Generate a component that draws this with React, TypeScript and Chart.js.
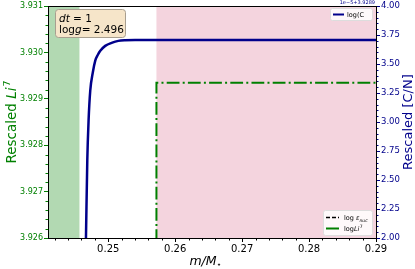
import React, { useEffect, useRef } from "react";
import { Chart, registerables } from "chart.js";

Chart.register(...registerables);

// ---- data ----
const cnMass = [0.24662, 0.24667, 0.24687, 0.24706, 0.24731, 0.2477, 0.24806, 0.24845, 0.24881, 0.24955, 0.2506, 0.2515, 0.2525, 0.254, 0.29];
const cnValue = [1.85, 2.0, 2.67, 3.01, 3.27, 3.43, 3.53, 3.58, 3.614, 3.657, 3.685, 3.7, 3.706, 3.708, 3.708];

const liMass = [0.2572, 0.2572, 0.29];
const liValue = [3.925, 3.92935, 3.92935];

const xTicks = [0.25, 0.26, 0.27, 0.28, 0.29];
const liTicks = [3.926, 3.927, 3.928, 3.929, 3.93, 3.931];
const cnTicks = [2.0, 2.25, 2.5, 2.75, 3.0, 3.25, 3.5, 3.75, 4.0];

const greenSpan = [0.24, 0.2457];
const pinkSpan = [0.2572, 0.29];

const FONT = "'DejaVu Sans', sans-serif";
const GREEN = "#008000";
const NAVY = "#00008b";

const overlay = {
  id: "overlay",
  beforeDatasetsDraw(chart: any) {
    const { ctx, chartArea: a, scales } = chart;
    const x = scales.x;
    ctx.save();
    ctx.beginPath();
    ctx.rect(a.left, a.top, a.right - a.left, a.bottom - a.top);
    ctx.clip();
    const fill = (r: number[], c: string) => {
      const x0 = x.getPixelForValue(r[0]);
      const x1 = x.getPixelForValue(r[1]);
      ctx.fillStyle = c;
      ctx.fillRect(x0, a.top, x1 - x0, a.bottom - a.top);
    };
    fill(greenSpan, "rgba(0,128,0,0.3)");
    fill(pinkSpan, "rgba(219,112,147,0.3)");
    ctx.restore();
  },
  afterDatasetsDraw(chart: any) {
    const { ctx, chartArea: a, scales } = chart;
    const x = scales.x, yl = scales.yLi, yr = scales.yCN;
    ctx.save();
    // minor ticks
    ctx.lineWidth = 1;
    ctx.strokeStyle = "#000";
    for (let i = 121; i <= 145; i++) {
      if (i % 5 === 0) continue;
      const px = Math.round(x.getPixelForValue(i * 0.002)) + 0.5;
      ctx.beginPath(); ctx.moveTo(px, a.bottom); ctx.lineTo(px, a.bottom + 2.5); ctx.stroke();
    }
    ctx.strokeStyle = GREEN;
    for (let i = 0; i <= 25; i++) {
      if (i % 5 === 0) continue;
      const py = Math.round(yl.getPixelForValue(3.926 + i * 0.0002)) + 0.5;
      ctx.beginPath(); ctx.moveTo(a.left, py); ctx.lineTo(a.left - 2.5, py); ctx.stroke();
    }
    ctx.strokeStyle = NAVY;
    for (let i = 0; i <= 40; i++) {
      if (i % 5 === 0) continue;
      const py = Math.round(yr.getPixelForValue(2 + i * 0.05)) + 0.5;
      ctx.beginPath(); ctx.moveTo(a.right, py); ctx.lineTo(a.right + 2.5, py); ctx.stroke();
    }
    // frame
    ctx.strokeStyle = "#000";
    ctx.lineWidth = 1;
    ctx.strokeRect(Math.round(a.left) + 0.5, Math.round(a.top) + 0.5, Math.round(a.right - a.left), Math.round(a.bottom - a.top));

    // text box
    const rr = (x0: number, y0: number, w: number, h: number, r: number) => {
      ctx.beginPath();
      ctx.moveTo(x0 + r, y0);
      ctx.arcTo(x0 + w, y0, x0 + w, y0 + h, r);
      ctx.arcTo(x0 + w, y0 + h, x0, y0 + h, r);
      ctx.arcTo(x0, y0 + h, x0, y0, r);
      ctx.arcTo(x0, y0, x0 + w, y0, r);
      ctx.closePath();
    };
    rr(55.5, 9.5, 70, 28, 3);
    ctx.fillStyle = "#f6e5c9";
    ctx.fill();
    ctx.strokeStyle = "#a89f90";
    ctx.stroke();
    ctx.fillStyle = "#000";
    ctx.textBaseline = "alphabetic";
    ctx.textAlign = "left";
    let cx = 59;
    ctx.font = `italic 10.5px ${FONT}`;
    ctx.fillText("dt", cx, 22);
    cx += ctx.measureText("dt").width;
    ctx.font = `10.5px ${FONT}`;
    ctx.fillText(" = 1", cx, 22);
    cx = 59;
    ctx.fillText("log", cx, 33);
    cx += ctx.measureText("log").width;
    ctx.font = `italic 10.5px ${FONT}`;
    ctx.fillText("g", cx, 33);
    cx += ctx.measureText("g").width;
    ctx.font = `10.5px ${FONT}`;
    ctx.fillText("= 2.496", cx, 33);

    // upper-right legend
    rr(330.5, 8.5, 42, 12, 2);
    ctx.fillStyle = "rgba(255,255,255,0.85)";
    ctx.fill();
    ctx.strokeStyle = "#ddd";
    ctx.stroke();
    ctx.strokeStyle = NAVY;
    ctx.lineWidth = 2;
    ctx.beginPath(); ctx.moveTo(333, 14.5); ctx.lineTo(344, 14.5); ctx.stroke();
    ctx.fillStyle = "#000";
    ctx.font = `6.5px ${FONT}`;
    ctx.fillText("log(C", 347, 17);

    // lower-right legend
    ctx.lineWidth = 1;
    rr(323.5, 210.5, 49, 25, 2);
    ctx.fillStyle = "rgba(255,255,255,0.85)";
    ctx.fill();
    ctx.strokeStyle = "#ddd";
    ctx.stroke();
    ctx.strokeStyle = "#000";
    ctx.lineWidth = 1.3;
    ctx.setLineDash([4, 2]);
    ctx.beginPath(); ctx.moveTo(326, 217.5); ctx.lineTo(339, 217.5); ctx.stroke();
    ctx.setLineDash([]);
    ctx.strokeStyle = GREEN;
    ctx.lineWidth = 2;
    ctx.beginPath(); ctx.moveTo(326, 228.5); ctx.lineTo(339, 228.5); ctx.stroke();
    ctx.fillStyle = "#000";
    ctx.font = `6.5px ${FONT}`;
    cx = 344;
    ctx.fillText("log ", cx, 220);
    cx += ctx.measureText("log ").width;
    ctx.font = `italic 6.5px ${FONT}`;
    ctx.fillText("ε", cx, 220);
    cx += ctx.measureText("ε").width;
    ctx.font = `italic 4.5px ${FONT}`;
    ctx.fillText("nuc", cx, 221.5);
    ctx.font = `6.5px ${FONT}`;
    cx = 344;
    ctx.fillText("log", cx, 231);
    cx += ctx.measureText("log").width;
    ctx.font = `italic 6.5px ${FONT}`;
    ctx.fillText("Li", cx, 231);
    cx += ctx.measureText("Li").width;
    ctx.font = `4.5px ${FONT}`;
    ctx.fillText("7", cx + 0.5, 227.5);

    // offset text
    ctx.fillStyle = NAVY;
    ctx.font = `5px ${FONT}`;
    ctx.textAlign = "right";
    ctx.fillText("1e\u22125+3.9289", 375, 3.5);
    ctx.textAlign = "left";

    // axis titles
    const midY = (a.top + a.bottom) / 2;
    // left
    ctx.save();
    ctx.translate(16, midY);
    ctx.rotate(-Math.PI / 2);
    ctx.fillStyle = GREEN;
    ctx.font = `13.5px ${FONT}`;
    const w1 = ctx.measureText("Rescaled ").width;
    ctx.font = `italic 13.5px ${FONT}`;
    const w2 = ctx.measureText("Li").width;
    ctx.font = `9.5px ${FONT}`;
    const w3 = ctx.measureText("7").width;
    let sx = -(w1 + w2 + w3 + 1) / 2;
    ctx.font = `13.5px ${FONT}`;
    ctx.fillText("Rescaled ", sx, 0);
    ctx.font = `italic 13.5px ${FONT}`;
    ctx.fillText("Li", sx + w1, 0);
    ctx.font = `9.5px ${FONT}`;
    ctx.fillText("7", sx + w1 + w2 + 1, -6);
    ctx.restore();
    // right
    ctx.save();
    ctx.translate(412, midY);
    ctx.rotate(-Math.PI / 2);
    ctx.fillStyle = NAVY;
    ctx.font = `13px ${FONT}`;
    ctx.textAlign = "center";
    ctx.fillText("Rescaled [C/N]", 0, 0);
    ctx.restore();
    // bottom
    ctx.fillStyle = "#000";
    ctx.font = `italic 12.5px ${FONT}`;
    const wm = ctx.measureText("m/M").width;
    const bx = 206 - (wm + 6) / 2;
    ctx.fillText("m/M", bx, 265);
    ctx.font = `8px ${FONT}`;
    ctx.fillText("\u22c6", bx + wm, 267);
    ctx.restore();
  },
};

export default function App() {
  const ref = useRef<HTMLCanvasElement>(null);
  useEffect(() => {
    const canvas = ref.current;
    if (!canvas) return;
    const chart = new Chart(canvas, {
      type: "line",
      data: {
        datasets: [
          {
            label: "logLi7",
            data: liMass.map((m, i) => ({ x: m, y: liValue[i] })),
            yAxisID: "yLi",
            borderColor: GREEN,
            borderWidth: 2,
            borderDash: [12.8, 3.2, 2, 3.2],
            pointRadius: 0,
            fill: false,
          },
          {
            label: "log(C/N)",
            data: cnMass.map((m, i) => ({ x: m, y: cnValue[i] })),
            yAxisID: "yCN",
            borderColor: NAVY,
            borderWidth: 2.5,
            pointRadius: 0,
            fill: false,
            cubicInterpolationMode: "monotone",
          },
        ],
      },
      options: {
        responsive: false,
        animation: false,
        layout: { padding: { top: 5, left: 0, right: 0, bottom: 0 } },
        plugins: { legend: { display: false }, tooltip: { enabled: false } },
        scales: {
          x: {
            type: "linear",
            position: "bottom",
            min: 0.241,
            max: 0.29,
            afterBuildTicks: (s: any) => { s.ticks = xTicks.map((value) => ({ value })); },
            afterFit: (s: any) => { s.height = 31; },
            ticks: {
              callback: (v: any) => Number(v).toFixed(2),
              color: "#000",
              font: { family: FONT, size: 10 },
              padding: 1,
              maxRotation: 0,
              autoSkip: false,
            },
            grid: { drawOnChartArea: false, drawTicks: true, tickLength: 4, color: "#000" },
            border: { display: true, color: "#000" },
          },
          yLi: {
            type: "linear",
            position: "left",
            min: 3.926,
            max: 3.931,
            afterBuildTicks: (s: any) => { s.ticks = liTicks.map((value) => ({ value })); },
            afterFit: (s: any) => { s.width = 48; },
            ticks: {
              callback: (v: any) => Number(v).toFixed(3),
              color: GREEN,
              font: { family: FONT, size: 8 },
              padding: 1,
              autoSkip: false,
            },
            grid: { drawOnChartArea: false, drawTicks: true, tickLength: 4, color: GREEN },
            border: { display: true, color: "#000" },
          },
          yCN: {
            type: "linear",
            position: "right",
            min: 2,
            max: 4,
            afterBuildTicks: (s: any) => { s.ticks = cnTicks.map((value) => ({ value })); },
            afterFit: (s: any) => { s.width = 39; },
            ticks: {
              callback: (v: any) => Number(v).toFixed(2),
              color: NAVY,
              font: { family: FONT, size: 8.5 },
              padding: 1,
              autoSkip: false,
            },
            grid: { drawOnChartArea: false, drawTicks: true, tickLength: 4, color: NAVY },
            border: { display: true, color: "#000" },
          },
        },
      },
      plugins: [overlay],
    } as any);
    return () => chart.destroy();
  }, []);
  return (
    <div style={{ position: "fixed", left: 0, top: 0, width: 415, height: 269, background: "#fff" }}>
      <canvas ref={ref} width={415} height={269} />
    </div>
  );
}
